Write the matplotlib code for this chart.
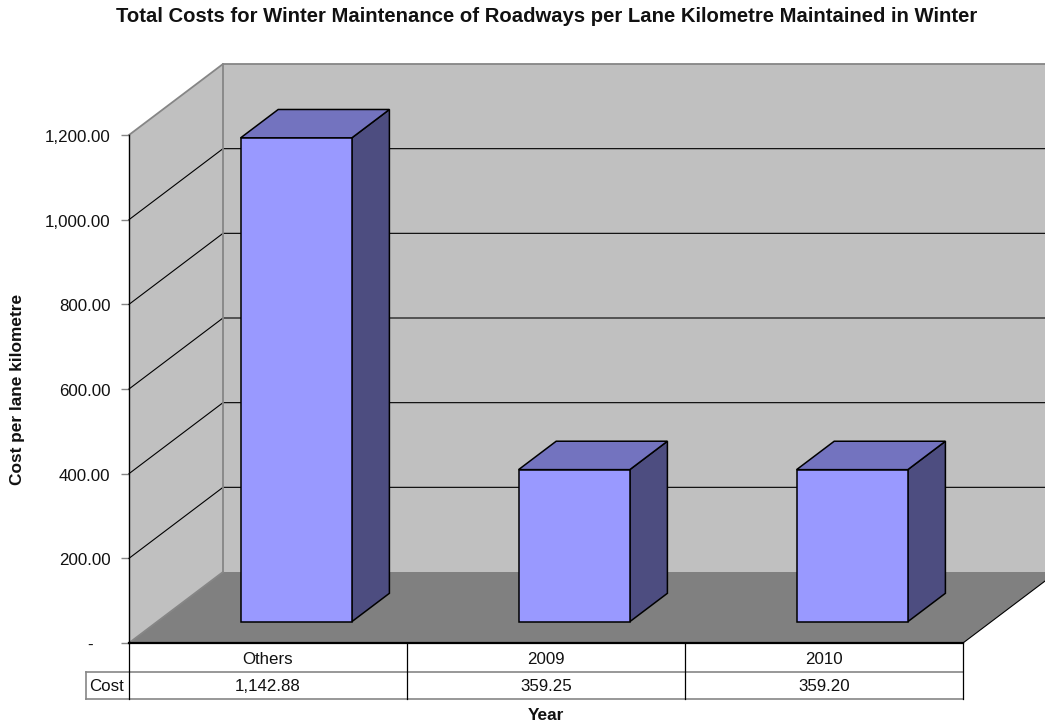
#!/usr/bin/env python3

import matplotlib
matplotlib.use("Agg")
import matplotlib.pyplot as plt
from matplotlib.patches import Polygon
from matplotlib.transforms import ScaledTranslation

categories = ["Others", "2009", "2010"]
costs = [1142.88, 359.25, 359.20]
cost_labels = ["1,142.88", "359.25", "359.20"]
y_ticks = [0, 200, 400, 600, 800, 1000, 1200]
y_tick_labels = ["-", "200.00", "400.00", "600.00", "800.00", "1,000.00", "1,200.00"]

W, H = 1045, 727
LEFT, RIGHT, TOP, BOTTOM = 129, 963, 135, 643

# one category in px, one value unit in px
CAT_PX = (RIGHT - LEFT) / len(categories)
VAL_PX = (BOTTOM - TOP) / 1200

# full depth of the fake 3d box, in data units
DEPTH_X = 94 / CAT_PX
DEPTH_Y = 71 / VAL_PX

WALL = "#C0C0C0"
FLOOR = "#808080"
EDGE = "#868686"
FRONT = "#9999FF"
BAR_TOP = "#7373BF"
BAR_SIDE = "#4D4D80"
TEXT = "#111111"

plt.rcParams["font.family"] = ["Liberation Sans", "DejaVu Sans"]


def proj(x, y, d=0.0):
    return (x + d * DEPTH_X, y + d * DEPTH_Y)


def draw_box(ax, n):
    ymax = y_ticks[-1]
    # back wall, side wall, floor
    ax.add_patch(Polygon([proj(0, 0, 1), proj(n, 0, 1), proj(n, ymax, 1), proj(0, ymax, 1)],
                         fc=WALL, ec="none", clip_on=False, zorder=1))
    ax.add_patch(Polygon([proj(0, 0), proj(0, 0, 1), proj(0, ymax, 1), proj(0, ymax)],
                         fc=WALL, ec="none", clip_on=False, zorder=1))
    ax.add_patch(Polygon([proj(0, 0), proj(n, 0), proj(n, 0, 1), proj(0, 0, 1)],
                         fc=FLOOR, ec="none", clip_on=False, zorder=2))

    for t in y_ticks[1:-1]:
        xs, ys = zip(proj(0, t), proj(0, t, 1), proj(n, t, 1))
        ax.plot(xs, ys, color="black", lw=0.8, clip_on=False, zorder=3)

    for pts in ([proj(0, ymax), proj(0, ymax, 1), proj(n, ymax, 1)],
                [proj(0, 0), proj(0, 0, 1)],
                [proj(0, 0, 1), proj(0, ymax, 1)]):
        xs, ys = zip(*pts)
        ax.plot(xs, ys, color=EDGE, lw=1.3, clip_on=False, zorder=3)

    # front edges
    ax.plot([0, 0], [0, ymax], color="black", lw=1.0, clip_on=False, zorder=4)
    ax.plot([0, n], [0, 0], color="black", lw=1.6, clip_on=False, zorder=6)
    xs, ys = zip(proj(n, 0), proj(n, 0, 1))
    ax.plot(xs, ys, color="black", lw=0.8, clip_on=False, zorder=4)


def draw_bar(ax, i, value, width=0.4, d0=0.3, d1=0.7):
    x0 = i + 0.5 - width / 2
    x1 = x0 + width
    kw = dict(ec="black", lw=1.1, joinstyle="miter", clip_on=False, zorder=5)
    ax.add_patch(Polygon([proj(x1, 0, d0), proj(x1, 0, d1), proj(x1, value, d1), proj(x1, value, d0)],
                         fc=BAR_SIDE, **kw))
    ax.add_patch(Polygon([proj(x0, value, d0), proj(x1, value, d0), proj(x1, value, d1), proj(x0, value, d1)],
                         fc=BAR_TOP, **kw))
    ax.add_patch(Polygon([proj(x0, 0, d0), proj(x1, 0, d0), proj(x1, value, d0), proj(x0, value, d0)],
                         fc=FRONT, **kw))


def draw_table(ax, n):
    row1 = -29 / VAL_PX
    row2 = -56 / VAL_PX
    label_left = -43 / CAT_PX
    nudge = 1.5 / VAL_PX

    ax.plot([label_left, n], [row1, row1], color=EDGE, lw=1.2, clip_on=False)
    ax.plot([label_left, n], [row2, row2], color=EDGE, lw=1.2, clip_on=False)
    ax.plot([label_left, label_left], [row1, row2], color=EDGE, lw=1.2, clip_on=False)
    for i in range(n + 1):
        ax.plot([i, i], [0, row2], color="black", lw=0.9, clip_on=False)

    for i, (cat, lab) in enumerate(zip(categories, cost_labels)):
        ax.text(i + 0.5, row1 / 2 - nudge, cat, ha="center", va="center", fontsize=12.2, color=TEXT)
        ax.text(i + 0.5, (row1 + row2) / 2 - nudge * 0.7, lab, ha="center", va="center", fontsize=12.2, color=TEXT)
    ax.text(label_left / 2 - 1.5 / CAT_PX, (row1 + row2) / 2 - nudge * 0.7, "Cost",
            ha="center", va="center", fontsize=12.2, color=TEXT)


def main():
    fig = plt.figure(figsize=(W / 100, H / 100), dpi=100, facecolor="white")
    ax = fig.add_axes([LEFT / W, 1 - BOTTOM / H, (RIGHT - LEFT) / W, (BOTTOM - TOP) / H])
    n = len(categories)
    ax.set_xlim(0, n)
    ax.set_ylim(0, y_ticks[-1])

    for s in ax.spines.values():
        s.set_visible(False)
    ax.patch.set_visible(False)
    ax.set_xticks([])
    ax.set_yticks(y_ticks)
    ax.set_yticklabels(y_tick_labels, fontsize=12.2, color=TEXT)
    ax.tick_params(axis="y", length=5.8, width=1.0, color=EDGE, pad=7.5)

    # the zero label sits further right of the number column's dash slot
    for i, lab in enumerate(ax.get_yticklabels()):
        dx = -18 / 100 if i == 0 else 0
        lab.set_transform(lab.get_transform() + ScaledTranslation(dx, -1 / 100, fig.dpi_scale_trans))

    draw_box(ax, n)
    for i, value in enumerate(costs):
        draw_bar(ax, i, value)
    draw_table(ax, n)

    fig.text(546.5 / W, 1 - 16 / H, "Total Costs for Winter Maintenance of Roadways per Lane Kilometre Maintained in Winter",
             ha="center", va="center", fontsize=14.55, fontweight="bold", color=TEXT)
    fig.text(18 / W, 1 - 389 / H, "Cost per lane kilometre", rotation=90,
             ha="center", va="center", fontsize=12.4, fontweight="bold", color=TEXT)
    fig.text(546 / W, 1 - 716 / H, "Year", ha="center", va="center",
             fontsize=12.4, fontweight="bold", color=TEXT)

    fig.savefig("out.png", dpi=100)


if __name__ == '__main__':
    main()
